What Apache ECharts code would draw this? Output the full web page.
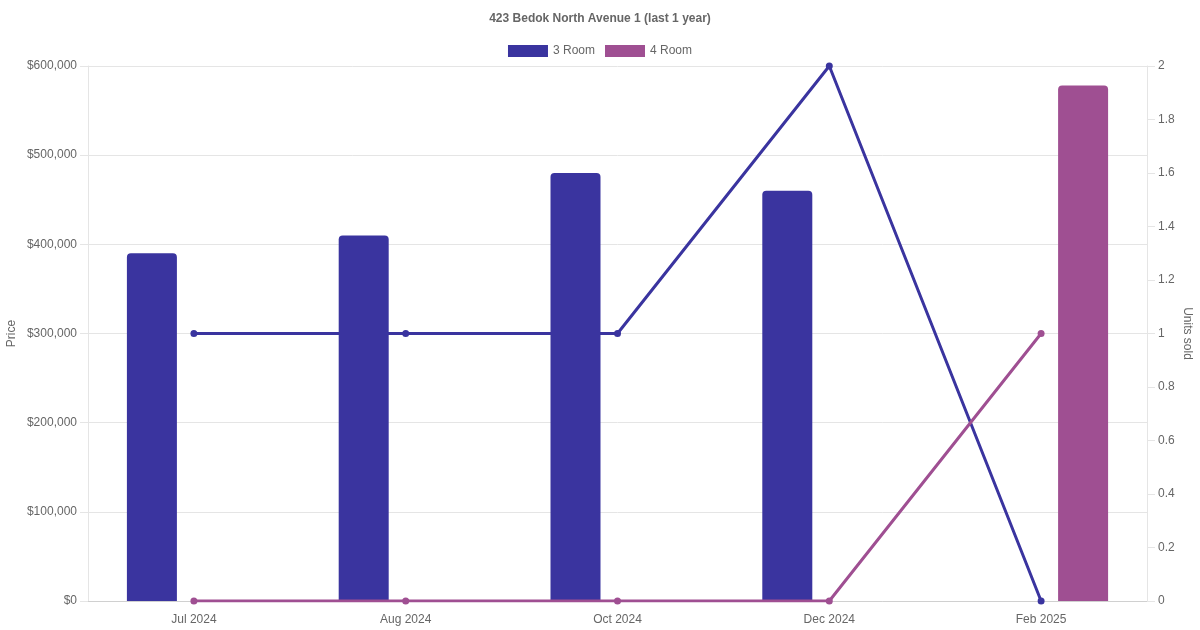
<!DOCTYPE html>
<html>
<head>
<meta charset="utf-8">
<script src="https://cdn.jsdelivr.net/npm/echarts@6/dist/echarts.min.js"></script>
<style>
html,body{margin:0;padding:0;background:#fff;}
#chart{width:1200px;height:630px;}
</style>
</head>
<body>
<div id="chart"></div>
<script>
const titleText = '423 Bedok North Avenue 1 (last 1 year)';
const categories = ['Jul 2024', 'Aug 2024', 'Oct 2024', 'Dec 2024', 'Feb 2025'];
const price3Room = [390000, 410000, 480000, 460000, null];
const price4Room = [null, null, null, null, 578000];
const units3Room = [1, 1, 1, 2, 0];
const units4Room = [0, 0, 0, 0, 1];
const seriesNames = ['3 Room', '4 Room'];

const C3 = '#3a349f';
const C4 = '#9f4f92';
const FONT = '"Liberation Sans", Arial, Helvetica, sans-serif';

const chart = echarts.init(document.getElementById('chart'));
const option = {
  animation: false,
  textStyle: { fontFamily: FONT },
  title: {
    text: titleText, left: 'center', top: 8,
    textStyle: { fontSize: 12, fontWeight: 'bold', color: '#666', fontFamily: FONT }
  },
  legend: {
    top: 40, left: 'center',
    data: seriesNames,
    icon: 'rect', itemWidth: 40, itemHeight: 12, itemGap: 10,
    textStyle: { fontSize: 12, color: '#666', fontFamily: FONT }
  },
  grid: { left: 88, right: 53, top: 66, bottom: 29, containLabel: false, outerBoundsMode: 'none' },
  xAxis: {
    type: 'category', data: categories,
    axisLine: { show: true, lineStyle: { color: '#d0d0d0' } },
    axisTick: { show: false },
    splitLine: { show: false },
    axisLabel: { color: '#666', fontSize: 12, margin: 13, fontFamily: FONT }
  },
  yAxis: [
    {
      type: 'value', min: 0, max: 600000, interval: 100000,
      name: 'Price', nameLocation: 'middle', nameGap: 70, nameRotate: 90, nameMoveOverlap: false,
      nameTextStyle: { color: '#666', fontSize: 12, fontFamily: FONT },
      axisLine: { show: true, lineStyle: { color: '#e5e5e5' } },
      axisTick: { show: true, length: 8, lineStyle: { color: '#e5e5e5' } },
      splitLine: { show: true, lineStyle: { color: '#e5e5e5' } },
      axisLabel: { color: '#666', fontSize: 12, margin: 11, fontFamily: FONT,
        formatter: v => '$' + v.toLocaleString('en-US') }
    },
    {
      type: 'value', min: 0, max: 2, interval: 0.2,
      name: 'Units sold', nameLocation: 'middle', nameGap: 34, nameRotate: -90, nameMoveOverlap: false,
      nameTextStyle: { color: '#666', fontSize: 12, fontFamily: FONT },
      axisLine: { show: true, lineStyle: { color: '#e5e5e5' } },
      axisTick: { show: true, length: 8, lineStyle: { color: '#e5e5e5' } },
      splitLine: { show: false },
      axisLabel: { color: '#666', fontSize: 12, margin: 11, fontFamily: FONT,
        formatter: v => String(Math.round(v * 10) / 10) }
    }
  ],
  series: [
    {
      name: seriesNames[0], type: 'bar', yAxisIndex: 0, data: price3Room,
      barWidth: 50, barGap: '68%',
      itemStyle: { color: C3, borderRadius: [4, 4, 0, 0] }
    },
    {
      name: seriesNames[1], type: 'bar', yAxisIndex: 0, data: price4Room,
      barWidth: 50, barGap: '68%',
      itemStyle: { color: C4, borderRadius: [4, 4, 0, 0] }
    },
    {
      name: seriesNames[0], type: 'line', yAxisIndex: 1, data: units3Room,
      symbol: 'circle', symbolSize: 7, z: 5,
      lineStyle: { color: C3, width: 3 }, itemStyle: { color: C3 }
    },
    {
      name: seriesNames[1], type: 'line', yAxisIndex: 1, data: units4Room,
      symbol: 'circle', symbolSize: 7, z: 6,
      lineStyle: { color: C4, width: 3 }, itemStyle: { color: C4 }
    }
  ]
};
chart.setOption(option);
</script>
</body>
</html>
